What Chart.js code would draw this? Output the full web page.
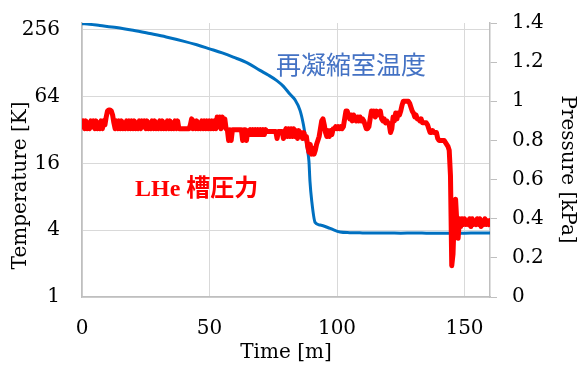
<!DOCTYPE html>
<html>
<head>
<meta charset="utf-8">
<script src="https://cdn.jsdelivr.net/npm/chart.js@4"></script>
<style>
  html, body { margin: 0; padding: 0; background: #fff; }
</style>
</head>
<body>
<canvas id="grafico" width="579" height="367"></canvas>
<script>
// tempo (min) e temperatura da câmara de recondensação (K)
const tempTime = [0, 3, 7, 13.5, 20, 26.6, 33, 39.7, 45, 50, 55, 59.3, 65, 69.8, 73, 76.4, 79, 81.6,
    83.5, 85.5, 86.8, 87.7, 88.5, 89.0, 89.4, 90.1, 91.4, 93.4, 97.3, 101.2,
    105, 110, 115, 120, 125, 130, 135, 140, 145, 150, 155, 160];
const tempK = [290, 286, 279, 268, 253, 236, 220, 202, 187, 172, 158, 145, 128, 110, 100, 89, 79, 67,
    60, 48, 36, 27, 20.6, 16.7, 11, 7.3, 4.7, 4.45, 4.15, 3.85,
    3.8, 3.78, 3.77, 3.78, 3.76, 3.77, 3.76, 3.75, 3.76, 3.76, 3.77, 3.77];

// pressão do tanque de LHe (kPa), uma leitura a cada 0,5 min de 0 a 160
const pressureStep = 0.5;
const pressure = [
    0.88,0.90,0.86,0.90,0.86,0.89,0.86,0.90,0.87,0.90,0.86,0.90,0.86,0.89,0.86,0.90,0.86,0.90,0.88,0.92,
    0.95,0.955,0.955,0.95,0.93,0.89,0.86,0.90,0.86,0.90,0.86,0.90,0.86,0.89,0.86,0.90,0.86,0.90,0.86,0.90,
    0.86,0.90,0.86,0.89,0.86,0.90,0.86,0.90,0.87,0.90,0.86,0.90,0.86,0.89,0.86,0.90,0.86,0.90,0.86,0.89,
    0.86,0.90,0.86,0.90,0.86,0.89,0.86,0.90,0.86,0.90,0.86,0.89,0.86,0.90,0.86,0.90,0.86,0.86,0.86,0.86,
    0.86,0.86,0.86,0.86,0.86,0.88,0.91,0.86,0.90,0.86,0.90,0.86,0.89,0.86,0.90,0.86,0.90,0.86,0.90,0.86,
    0.90,0.86,0.90,0.86,0.90,0.86,0.92,0.87,0.92,0.86,0.92,0.87,0.91,0.86,0.855,0.80,0.855,0.80,0.855,0.855,
    0.855,0.855,0.855,0.855,0.855,0.855,0.80,0.855,0.855,0.80,0.85,0.83,0.855,0.83,0.855,0.83,0.855,0.83,0.855,0.83,
    0.855,0.83,0.855,0.83,0.855,0.845,0.845,0.845,0.845,0.845,0.845,0.845,0.845,0.81,0.845,0.845,0.845,0.845,0.81,0.845,
    0.86,0.82,0.86,0.82,0.86,0.82,0.86,0.82,0.85,0.81,0.85,0.82,0.84,0.81,0.84,0.81,0.82,0.77,0.74,0.78,
    0.73,0.76,0.73,0.75,0.78,0.80,0.82,0.86,0.90,0.91,0.88,0.84,0.82,0.85,0.82,0.85,0.83,0.86,0.86,0.87,
    0.86,0.87,0.86,0.87,0.86,0.87,0.91,0.95,0.95,0.93,0.91,0.93,0.90,0.93,0.91,0.90,0.92,0.90,0.92,0.90,
    0.91,0.90,0.88,0.86,0.86,0.87,0.91,0.95,0.94,0.95,0.92,0.95,0.93,0.94,0.95,0.91,0.90,0.91,0.89,0.90,
    0.89,0.88,0.84,0.86,0.92,0.90,0.94,0.91,0.94,0.93,0.95,0.98,1.0,1.0,1.0,1.0,1.0,0.99,0.97,0.95,
    0.94,0.92,0.93,0.91,0.91,0.90,0.91,0.89,0.89,0.89,0.89,0.88,0.86,0.84,0.84,0.85,0.84,0.84,0.84,0.81,
    0.80,0.80,0.80,0.80,0.80,0.79,0.78,0.77,0.75,0.62,0.16,0.22,0.42,0.50,0.38,0.30,0.40,0.36,0.40,0.37,
    0.40,0.37,0.39,0.37,0.40,0.36,0.40,0.37,0.39,0.37,0.40,0.37,0.40,0.36,0.39,0.37,0.40,0.37,0.39,0.37,
    0.39
];

const timeTicks = [0, 50, 100, 150];
const tempTicks = [1, 4, 16, 64, 256];
const pressureTicks = [0, 0.2, 0.4, 0.6, 0.8, 1, 1.2, 1.4];

const tempLabel = '再凝縮室温度';
const pressLabel = 'LHe 槽圧力';

const serif = '"DejaVu Serif", serif';
const corGrade = '#d9d9d9';
const corEixo = '#bfbfbf';
const nbsp = '\u00A0';

// textos dentro do gráfico
const rotulos = {
    id: 'rotulos',
    afterDatasetsDraw(chart) {
        const c = chart.ctx;
        c.save();
        c.textBaseline = 'middle';
        c.fillStyle = '#4472C4';
        c.font = '25px "Noto Sans CJK JP"';
        c.fillText(tempLabel, 276, 64);
        c.fillStyle = '#FF0000';
        c.font = 'bold 24px "Liberation Serif", "Noto Sans CJK JP"';
        c.fillText(pressLabel, 135, 190);
        c.restore();
    }
};

// largura fixa do eixo vertical, sem o recuo extra dos rótulos
function fixaEixoY(largura) {
    return function(s) {
        s.width = largura;
        s.paddingTop = 0;
        s.paddingBottom = 0;
    };
}

const ctxGrafico = document.getElementById('grafico');

new Chart(ctxGrafico, {
    type: 'line',
    data: {
        datasets: [
            {
                label: tempLabel,
                data: tempTime.map((t, i) => ({ x: t, y: tempK[i] })),
                yAxisID: 'yT',
                borderColor: '#0070C0',
                borderWidth: 3,
                pointRadius: 0,
                cubicInterpolationMode: 'monotone',
                order: 1
            },
            {
                label: pressLabel,
                data: pressure.map((p, i) => ({ x: i * pressureStep, y: p })),
                yAxisID: 'yP',
                borderColor: '#FF0000',
                borderWidth: 5,
                pointRadius: 0,
                tension: 0,
                borderJoinStyle: 'round',
                borderCapStyle: 'round',
                order: 0
            }
        ]
    },
    options: {
        responsive: false,
        animation: false,
        devicePixelRatio: 1,
        layout: { padding: { top: 23, left: 0, right: 0, bottom: 0 } },
        plugins: {
            legend: { display: false },
            tooltip: { enabled: false }
        },
        scales: {
            x: {
                type: 'linear',
                min: 0,
                max: 160,
                afterFit: s => { s.height = 70; },
                afterBuildTicks: s => { s.ticks = timeTicks.map(v => ({ value: v })); },
                grid: { color: corGrade, drawTicks: false },
                border: { color: corEixo, width: 1.5 },
                ticks: { padding: 20, color: '#000', font: { family: serif, size: 20 }, autoSkip: false },
                title: {
                    display: true, text: 'Time [m]', color: '#000',
                    font: { family: serif, size: 20 }, padding: { top: 0, bottom: 2 }
                }
            },
            yT: {
                type: 'logarithmic',
                position: 'left',
                min: 1,
                max: 294,
                afterFit: fixaEixoY(82),
                afterBuildTicks: s => { s.ticks = tempTicks.map(v => ({ value: v })); },
                grid: { color: corGrade, drawTicks: false },
                border: { color: corEixo, width: 1.5 },
                ticks: {
                    padding: 22, color: '#000', font: { family: serif, size: 20 }, autoSkip: false,
                    callback: v => String(v)
                },
                title: {
                    display: true, text: 'Temperature [K]' + nbsp.repeat(8), color: '#000',
                    font: { family: serif, size: 20 }, padding: { top: 9, bottom: 0 }
                }
            },
            yP: {
                type: 'linear',
                position: 'right',
                min: 0,
                max: 1.4,
                afterFit: fixaEixoY(89),
                afterBuildTicks: s => { s.ticks = pressureTicks.map(v => ({ value: v })); },
                grid: { drawOnChartArea: false, drawTicks: true, tickLength: 7, color: corEixo },
                border: { color: corEixo, width: 1.5 },
                ticks: {
                    padding: 15, color: '#000', font: { family: serif, size: 20 }, autoSkip: false,
                    callback: v => String(Number(v.toFixed(1)))
                },
                title: {
                    display: true, text: nbsp.repeat(3) + 'Pressure [kPa]', color: '#000',
                    font: { family: serif, size: 20 }, padding: { top: 0, bottom: 0 }
                }
            }
        }
    },
    plugins: [rotulos]
});
</script>
</body>
</html>
